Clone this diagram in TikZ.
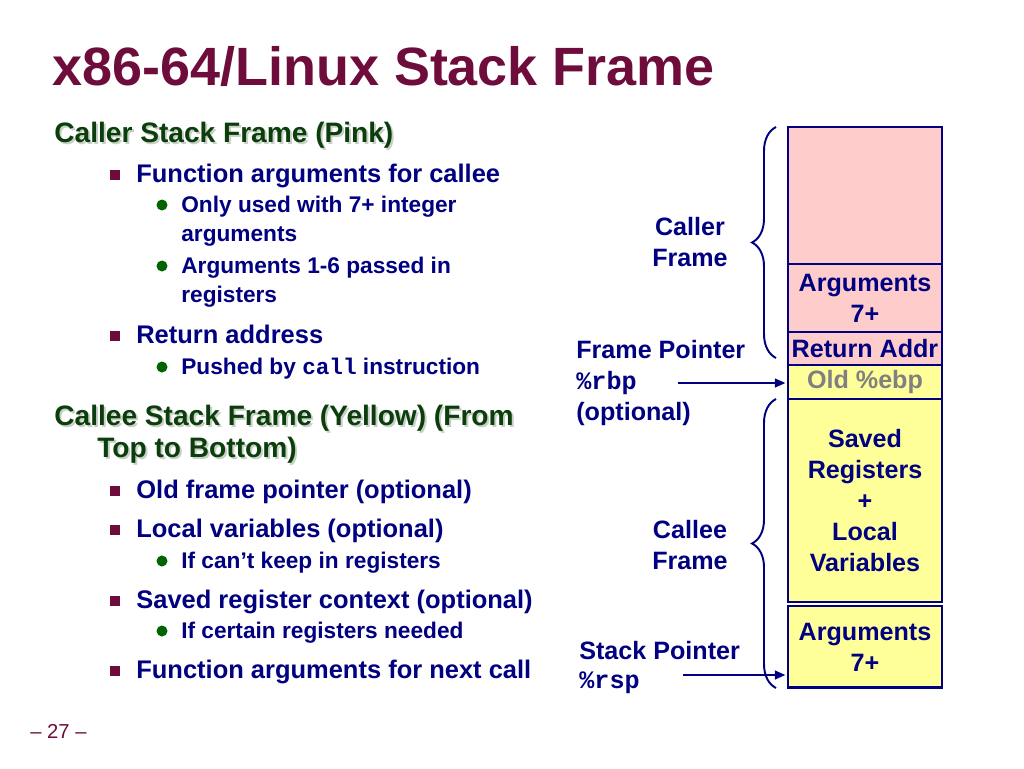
\documentclass[tikz,border=0pt]{standalone}
\usepackage{fontspec}
\setmainfont{Liberation Sans}
\setmonofont{Liberation Mono}
\usepackage{xcolor}
\usetikzlibrary{positioning, arrows.meta, decorations.pathreplacing}

\definecolor{titlered}{RGB}{110,12,60}
\definecolor{slideblue}{RGB}{0,0,128}
\definecolor{headgreen}{RGB}{12,62,12}
\definecolor{shadowgrey}{RGB}{200,208,200}
\definecolor{bulletgreen}{RGB}{0,100,0}
\definecolor{callerpink}{RGB}{255,204,204}
\definecolor{calleeyellow}{RGB}{255,255,153}
\definecolor{oldgrey}{RGB}{128,128,128}

\newcommand{\titlefont}{\fontsize{30.7}{36}\selectfont\bfseries}
\newcommand{\headfont}{\fontsize{16}{19}\selectfont\bfseries}
\newcommand{\itemfont}{\fontsize{14.5}{17}\selectfont\bfseries}
\newcommand{\subitemfont}{\fontsize{12.9}{16}\selectfont\bfseries}
\newcommand{\boxfont}{\fontsize{14.3}{17.6}\selectfont\bfseries}

\begin{document}
\begin{tikzpicture}[x=0.02cm, y=-0.02cm]
        \tikzstyle{heading} = [anchor=base west, inner sep=0, text=headgreen, font=\headfont]
        \tikzstyle{headshadow} = [heading, text=shadowgrey]
        \tikzstyle{itemA} = [anchor=base west, inner sep=0, text=slideblue, font=\itemfont]
        \tikzstyle{itemB} = [anchor=base west, inner sep=0, text=slideblue, font=\subitemfont]
        \tikzstyle{sqbullet} = [rectangle, fill=titlered, minimum size=0.2cm, inner sep=0]
        \tikzstyle{dotbullet} = [circle, fill=bulletgreen, minimum size=0.22cm, inner sep=0]
        \tikzstyle{stackbox} = [rectangle, draw=slideblue, line width=1.6pt, minimum width=3.08cm,
          inner sep=0, outer sep=0, align=center, text=slideblue, font=\boxfont]
        \tikzstyle{framelabel} = [align=center, inner sep=0, text=slideblue, font=\boxfont]
        \tikzstyle{ptrlabel} = [align=left, inner sep=0, anchor=west, text=slideblue, font=\boxfont]
        \tikzstyle{framebrace} = [draw=slideblue, line width=1.1pt, decorate, decoration={brace, amplitude=0.48cm}]
        \tikzstyle{ptrarrow} = [draw=slideblue, line width=1.1pt, shorten >=1.5pt, -{Triangle[length=6pt, width=5pt]}]

        \useasboundingbox (0,0) rectangle (1024,768);

        \node[anchor=base west, inner sep=0, text=titlered, font=\titlefont] (title) at (52,85) {x86-64/Linux Stack Frame};

        \foreach \x/\y/\txt [count=\i] in {54/142/{Caller Stack Frame (Pink)}, 54/425/{Callee Stack Frame (Yellow) (From}, 97/457/{Top to Bottom)}} {
          \node[headshadow] (hs\i) at (\x+2,\y+2) {\txt};
          \node[heading] (h\i) at (\x,\y) {\txt};
        }

        \foreach \y/\txt [count=\i] in {182/{Function arguments for callee}, 343/{Return address}, 498/{Old frame pointer (optional)}, 537/{Local variables (optional)}, 608/{Saved register context (optional)}, 678/{Function arguments for next call}} {
          \node[sqbullet] (sq\i) at (115,\y-7) {};
          \node[itemA] (item\i) at (136,\y) {\txt};
        }

        \foreach \y/\txt [count=\i] in {212/{Only used with 7+ integer}, 273/{Arguments 1-6 passed in}, 374/{Pushed by \texttt{call} instruction}, 568/{If can't keep in registers}, 638/{If certain registers needed}} {
          \node[dotbullet] (dot\i) at (162,\y-7) {};
          \node[itemB] (sub\i) at (181,\y) {\txt};
        }
        \node[itemB] (sub1b) at (181,241) {arguments};
        \node[itemB] (sub2b) at (181,302) {registers};

        \node[stackbox, fill=callerpink, minimum height=2.74cm, anchor=north] (callertop) at (865,127) {};
        \node[stackbox, fill=callerpink, minimum height=1.36cm, below=0pt of callertop] (args1) {Arguments\\7+};
        \node[stackbox, fill=callerpink, minimum height=0.66cm, below=0pt of args1] (retaddr) {Return Addr};
        \node[stackbox, fill=calleeyellow, minimum height=0.68cm, below=0pt of retaddr, text=oldgrey] (oldebp) {Old \%ebp};
        \node[stackbox, fill=calleeyellow, minimum height=4.06cm, below=0pt of oldebp] (saved) {Saved\\Registers\\+\\Local\\Variables};
        \node[stackbox, fill=calleeyellow, minimum height=1.64cm, below=0.08cm of saved] (args2) {Arguments\\7+};

        \coordinate (callerlow) at (776,358);
        \coordinate (callerhigh) at (776,127);
        \draw[framebrace] (callerlow) -- (callerhigh);
        \coordinate (calleelow) at (776,688);
        \coordinate (calleehigh) at (776,399);
        \draw[framebrace] (calleelow) -- (calleehigh);

        \node[framelabel] (callerlbl) at (690,242) {Caller\\Frame};
        \node[framelabel] (calleelbl) at (690,545) {Callee\\Frame};
        \node[ptrlabel] (fplbl) at (576,383) {Frame Pointer\\\texttt{\%rbp}\\(optional)};
        \node[ptrlabel, font=\fontsize{14.3}{16.5}\selectfont\bfseries] (splbl) at (579,667) {Stack Pointer\\\texttt{\%rsp}};

        \coordinate (fpstart) at (678,383);
        \draw[ptrarrow] (fpstart) -- (fpstart -| oldebp.west);
        \coordinate (spstart) at (683,675);
        \draw[ptrarrow] (spstart) -- (spstart -| args2.west);

        \node[anchor=base west, inner sep=0, text=titlered, font=\fontsize{11.5}{14}\selectfont] (pagenum) at (30,738) {-- 27 --};
      \end{tikzpicture}
\end{document}
